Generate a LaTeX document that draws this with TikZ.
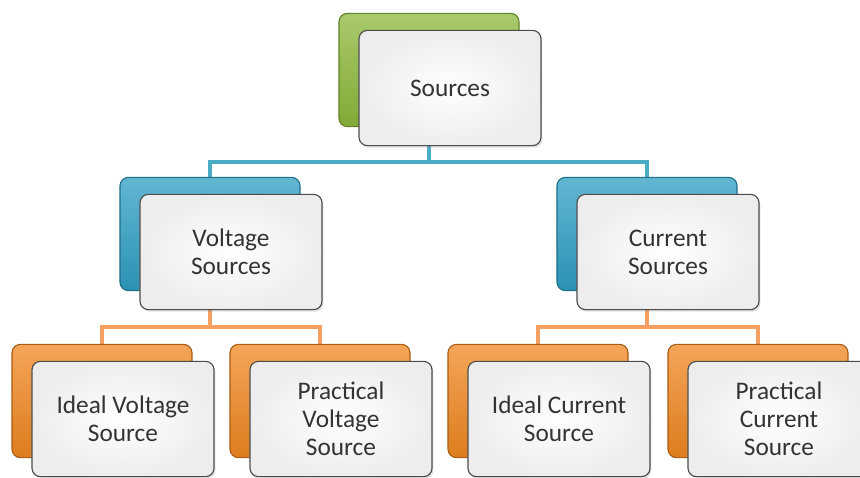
\documentclass[tikz,border=0pt]{standalone}
\usepackage{fontspec}
\setmainfont{Carlito}
\usetikzlibrary{positioning,backgrounds,shadows}
\definecolor{leafgreen}{HTML}{8DB83B}
\definecolor{seablue}{HTML}{2E9EC3}
\definecolor{tangerine}{HTML}{F08720}
\definecolor{blueline}{HTML}{4BACC6}
\definecolor{orangeline}{HTML}{F5A060}
\tikzset{shelf/.style={rounded corners=6pt, minimum width=4.5cm, minimum height=2.83cm,
    draw=#1!70!black, thick, top color=#1!75!white, middle color=#1, bottom color=#1!92!black}}
\tikzset{card/.style={rounded corners=6pt, minimum width=4.55cm, minimum height=2.88cm,
    draw=black!70, thick, inner color=white, outer color=black!7,
    drop shadow={opacity=0.25, shadow xshift=1pt, shadow yshift=-1.5pt},
    align=center, text=black!80, font=\fontsize{18}{20}\selectfont}}
\tikzset{link/.style={line width=2.2pt, draw=#1}}

\begin{document}
\begin{tikzpicture}[x=0.025cm, y=-0.025cm]
   \useasboundingbox (0,0) rectangle (860,478);

   % back boxes
   \node[shelf=leafgreen] (srcB) at (429,70)  {};
   \node[shelf=seablue]   (volB) at (210,234) {};
   \node[shelf=seablue]   (curB) at (647,234) {};
   \node[shelf=tangerine] (ivsB) at (102,401) {};
   \node[shelf=tangerine] (pvsB) at (320,401) {};
   \node[shelf=tangerine] (icsB) at (538,401) {};
   \node[shelf=tangerine] (pcsB) at (758,401) {};

   % front boxes
   \node[card] (src) at ([shift={(21,18)}]srcB) {Sources};
   \node[card] (vol) at ([shift={(21,18)}]volB) {Voltage\\Sources};
   \node[card] (cur) at ([shift={(21,18)}]curB) {Current\\Sources};
   \node[card] (ivs) at ([shift={(21,18)}]ivsB) {Ideal Voltage\\Source};
   \node[card] (pvs) at ([shift={(21,18)}]pvsB) {Practical\\Voltage\\Source};
   \node[card] (ics) at ([shift={(21,18)}]icsB) {Ideal Current\\Source};
   \node[card] (pcs) at ([shift={(21,18)}]pcsB) {Practical\\Current\\Source};

   \coordinate (srcJ) at (429,162);
   \coordinate (volJ) at (210,327);
   \coordinate (curJ) at (647,327);

   \begin{scope}[on background layer]
      \draw[link=blueline] (srcB) -- (srcJ);
      \draw[link=blueline] (srcJ) -| (volB);
      \draw[link=blueline] (srcJ) -| (curB);

      \draw[link=orangeline] (volB) -- (volJ);
      \draw[link=orangeline] (volJ) -| (ivsB);
      \draw[link=orangeline] (volJ) -| (pvsB);

      \draw[link=orangeline] (curB) -- (curJ);
      \draw[link=orangeline] (curJ) -| (icsB);
      \draw[link=orangeline] (curJ) -| (pcsB);
   \end{scope}
\end{tikzpicture}
\end{document}
